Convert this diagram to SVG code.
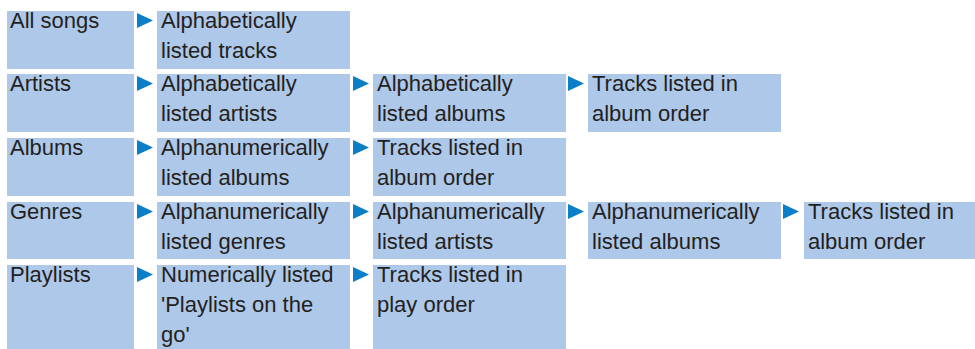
<svg xmlns="http://www.w3.org/2000/svg" xmlns:xlink="http://www.w3.org/1999/xlink" width="975" height="349" viewBox="0 0 975 349">
<style>
.box{fill:#aec8e9;}
.t{font-family:"Liberation Sans",Arial,sans-serif;font-size:22px;fill:#231f20;}
.arr{fill:#0a7ec8;}
</style>
<defs>
<polygon id="tri" points="0,0 16,7.5 0,15"/>
</defs>
<rect width="975" height="349" fill="#ffffff"/>
<g id="r1c1"><rect class="box" x="7" y="11" width="127" height="58"/><text class="t" x="10" y="28">All songs</text></g>
<g id="r1c2"><rect class="box" x="157" y="11" width="193" height="58"/><text class="t" x="161" y="28">Alphabetically<tspan x="161" y="58">listed tracks</tspan></text></g>

<g id="r2c1"><rect class="box" x="7" y="74" width="127" height="58"/><text class="t" x="10" y="91">Artists</text></g>
<g id="r2c2"><rect class="box" x="157" y="74" width="193" height="58"/><text class="t" x="161" y="91">Alphabetically<tspan x="161" y="121">listed artists</tspan></text></g>
<g id="r2c3"><rect class="box" x="373" y="74" width="193" height="58"/><text class="t" x="377" y="91">Alphabetically<tspan x="377" y="121">listed albums</tspan></text></g>
<g id="r2c4"><rect class="box" x="588" y="74" width="193" height="58"/><text class="t" x="592" y="91">Tracks listed in<tspan x="592" y="121">album order</tspan></text></g>

<g id="r3c1"><rect class="box" x="7" y="138" width="127" height="58"/><text class="t" x="10" y="155">Albums</text></g>
<g id="r3c2"><rect class="box" x="157" y="138" width="193" height="58"/><text class="t" x="161" y="155">Alphanumerically<tspan x="161" y="185">listed albums</tspan></text></g>
<g id="r3c3"><rect class="box" x="373" y="138" width="193" height="58"/><text class="t" x="377" y="155">Tracks listed in<tspan x="377" y="185">album order</tspan></text></g>

<g id="r4c1"><rect class="box" x="7" y="202" width="127" height="57"/><text class="t" x="10" y="219">Genres</text></g>
<g id="r4c2"><rect class="box" x="157" y="202" width="193" height="57"/><text class="t" x="161" y="219">Alphanumerically<tspan x="161" y="249">listed genres</tspan></text></g>
<g id="r4c3"><rect class="box" x="373" y="202" width="193" height="57"/><text class="t" x="377" y="219">Alphanumerically<tspan x="377" y="249">listed artists</tspan></text></g>
<g id="r4c4"><rect class="box" x="588" y="202" width="193" height="57"/><text class="t" x="592" y="219">Alphanumerically<tspan x="592" y="249">listed albums</tspan></text></g>
<g id="r4c5"><rect class="box" x="804" y="202" width="171" height="57"/><text class="t" x="808" y="219">Tracks listed in<tspan x="808" y="249">album order</tspan></text></g>

<g id="r5c1"><rect class="box" x="7" y="265" width="127" height="84"/><text class="t" x="10" y="282">Playlists</text></g>
<g id="r5c2"><rect class="box" x="157" y="265" width="193" height="84"/><text class="t" x="161" y="282">Numerically listed<tspan x="161" y="312">'Playlists on the</tspan><tspan x="161" y="342">go'</tspan></text></g>
<g id="r5c3"><rect class="box" x="373" y="265" width="193" height="84"/><text class="t" x="377" y="282">Tracks listed in<tspan x="377" y="312">play order</tspan></text></g>

<g id="connectors" class="arr">
<use xlink:href="#tri" x="137" y="13"/>
<use xlink:href="#tri" x="137" y="76"/>
<use xlink:href="#tri" x="353" y="76"/>
<use xlink:href="#tri" x="568" y="76"/>
<use xlink:href="#tri" x="137" y="140"/>
<use xlink:href="#tri" x="353" y="140"/>
<use xlink:href="#tri" x="137" y="204"/>
<use xlink:href="#tri" x="353" y="204"/>
<use xlink:href="#tri" x="568" y="204"/>
<use xlink:href="#tri" x="783" y="204"/>
<use xlink:href="#tri" x="137" y="267"/>
<use xlink:href="#tri" x="353" y="267"/>
</g>
</svg>
